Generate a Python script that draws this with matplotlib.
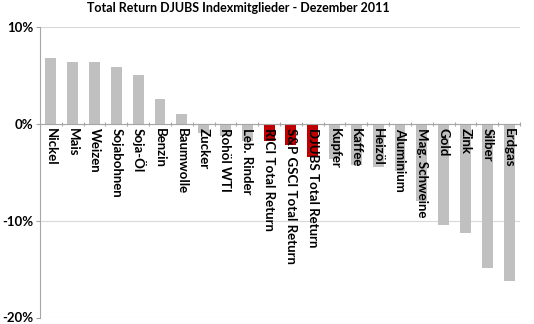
import matplotlib
matplotlib.use("Agg")
import matplotlib.pyplot as plt
from matplotlib.ticker import FixedLocator, FuncFormatter
import numpy as np

categories = ["Nickel", "Mais", "Weizen", "Sojabohnen", "Soja-Öl", "Benzin", "Baumwolle",
              "Zucker", "Rohöl WTI", "Leb. Rinder", "RICI Total Return",
              "S&P GSCI Total Return", "DJUBS Total Return", "Kupfer", "Kaffee",
              "Heizöl", "Aluminium", "Mag. Schweine", "Gold", "Zink", "Silber", "Erdgas"]
values = [6.85, 6.35, 6.35, 5.85, 5.05, 2.55, 1.0,
          -0.95, -1.3, -1.8, -1.8, -2.15, -3.4, -3.6, -4.2,
          -4.45, -4.9, -8.0, -10.45, -11.3, -14.9, -16.2]
highlight = ["RICI Total Return", "S&P GSCI Total Return", "DJUBS Total Return"]
yticks = [10, 0, -10, -20]
title = "Total Return DJUBS Indexmitglieder - Dezember 2011"

plt.rcParams['font.family'] = ['Lato', 'DejaVu Sans']

fig = plt.figure(figsize=(5.34, 3.24), dpi=100)
ax = fig.add_axes([40/534, 1-317.5/324, 480/534, (317.5-27)/324])

x = np.arange(len(categories))
colors = ["#C00000" if c in highlight else "#C0C0C0" for c in categories]
ax.bar(x, values, width=0.5, color=colors, zorder=2)

ax.set_xlim(-0.5, len(categories) - 0.5)
ax.set_ylim(-20, 10)
ax.set_yticks(yticks)
ax.yaxis.set_major_formatter(FuncFormatter(lambda v, p: f"{v:.0f}%"))
ax.grid(axis='y', color='#D9D9D9', linewidth=0.8, zorder=0)
ax.tick_params(axis='y', length=3, width=0.8, color='#A6A6A6', pad=2, labelsize=9.5)
for lab in ax.get_yticklabels():
    lab.set_fontweight('bold')

for s in ['top', 'right']:
    ax.spines[s].set_visible(False)
ax.spines['left'].set_color('#A6A6A6')
ax.spines['left'].set_linewidth(0.8)
ax.spines['bottom'].set_position(('data', 0))
ax.spines['bottom'].set_color('#A6A6A6')
ax.spines['bottom'].set_linewidth(0.8)

ax.set_xticks(x)
ax.set_xticklabels([])
ax.tick_params(axis='x', which='major', length=0)
ax.xaxis.set_minor_locator(FixedLocator(np.arange(-0.5, len(categories) + 0.5, 1)))
ax.tick_params(axis='x', which='minor', length=3, direction='inout', color='#A6A6A6', width=0.8)

for xi, c in zip(x, categories):
    ax.annotate(c, xy=(xi, 0), xytext=(0, -3), textcoords='offset points',
                rotation=270, ha='center', va='top', fontsize=9.5, fontweight='bold',
                color='black', zorder=5)

fig.text(238/534, 1-8/324, title, ha='center', va='center', fontsize=9, fontweight='bold')

fig.savefig("out.png", dpi=100)
